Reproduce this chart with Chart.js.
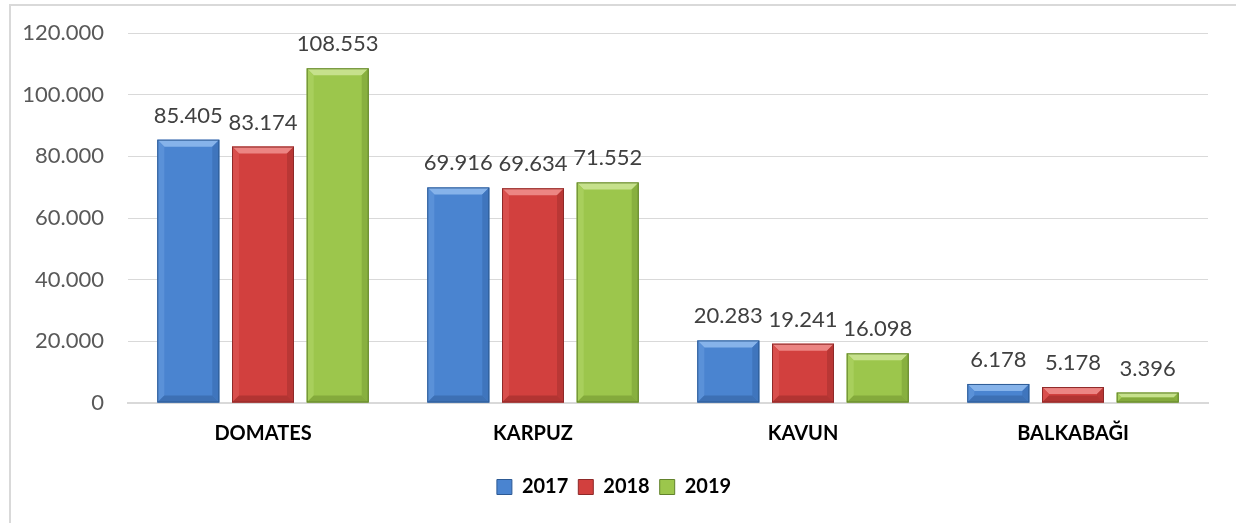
<!DOCTYPE html>
<html>
<head>
<meta charset="utf-8">
<script src="https://cdn.jsdelivr.net/npm/chart.js@4/dist/chart.umd.min.js"></script>
<style>
  html, body { margin: 0; padding: 0; background: #fff; }
  #wrap { position: relative; width: 1236px; height: 523px; overflow: hidden; }
  #frame {
    position: absolute; left: 9px; top: 4px; right: -4px; bottom: -4px;
    border-left: 2px solid #d9d9d9; border-top: 2px solid #d9d9d9;
  }
  #chart { position: absolute; left: 0; top: 0; }
</style>
</head>
<body>
<div id="wrap">
  <div id="frame"></div>
  <canvas id="chart" width="1236" height="523"></canvas>
</div>
<script>
const categories = ['DOMATES', 'KARPUZ', 'KAVUN', 'BALKABAĞI'];
const years = ['2017', '2018', '2019'];
const values2017 = [85405, 69916, 20283, 6178];
const values2018 = [83174, 69634, 19241, 5178];
const values2019 = [108553, 71552, 16098, 3396];
const yTicks = [0, 20000, 40000, 60000, 80000, 100000, 120000];

const palette = [
  { main: '#4a84d0', light: '#86b3ea', side: '#5a91d8', dark: '#3f75bd', bottom: '#3d70b4', edge: '#2d5a94' },
  { main: '#d2403e', light: '#ec8583', side: '#d94f4d', dark: '#b93735', bottom: '#b23432', edge: '#8e2928' },
  { main: '#9cc64c', light: '#c6e18c', side: '#a8cf5c', dark: '#88b03f', bottom: '#84aa3c', edge: '#62822c' },
];

function formatTr(n) {
  return String(Math.round(n)).replace(/\B(?=(\d{3})+(?!\d))/g, '.');
}

const bevelPlugin = {
  id: 'bevel',
  afterDatasetsDraw(chart) {
    const ctx = chart.ctx;
    chart.data.datasets.forEach((ds, di) => {
      const meta = chart.getDatasetMeta(di);
      const c = palette[di];
      meta.data.forEach((bar) => {
        const p = bar.getProps(['x', 'y', 'base', 'width'], true);
        const left = p.x - p.width / 2;
        const right = p.x + p.width / 2;
        const top = p.y;
        const bottom = p.base;
        const b = Math.min(7, (bottom - top) / 2, p.width / 2);
        ctx.save();
        const poly = (pts, color) => {
          ctx.beginPath();
          ctx.moveTo(pts[0][0], pts[0][1]);
          for (let i = 1; i < pts.length; i++) ctx.lineTo(pts[i][0], pts[i][1]);
          ctx.closePath();
          ctx.fillStyle = color;
          ctx.fill();
        };
        poly([[left, top], [right, top], [right - b, top + b], [left + b, top + b]], c.light);
        poly([[left, top], [left + b, top + b], [left + b, bottom - b], [left, bottom]], c.side);
        poly([[right, top], [right, bottom], [right - b, bottom - b], [right - b, top + b]], c.dark);
        poly([[left, bottom], [left + b, bottom - b], [right - b, bottom - b], [right, bottom]], c.bottom);
        ctx.strokeStyle = c.edge;
        ctx.lineWidth = 1;
        ctx.strokeRect(left + 0.5, top + 0.5, p.width - 1, bottom - top - 1);
        ctx.restore();
      });
    });
  },
};

const valueLabels = {
  id: 'valueLabels',
  afterDatasetsDraw(chart) {
    const ctx = chart.ctx;
    ctx.save();
    ctx.font = '22px Lato';
    ctx.fillStyle = '#404040';
    ctx.textAlign = 'center';
    ctx.textBaseline = 'alphabetic';
    chart.data.datasets.forEach((ds, di) => {
      const meta = chart.getDatasetMeta(di);
      meta.data.forEach((bar, i) => {
        ctx.fillText(formatTr(ds.data[i]), bar.x, bar.y - 17);
      });
    });
    ctx.restore();
  },
};

const seriesValues = [values2017, values2018, values2019];

new Chart(document.getElementById('chart'), {
  type: 'bar',
  data: {
    labels: categories,
    datasets: years.map((y, i) => ({
      label: y,
      data: seriesValues[i],
      backgroundColor: palette[i].main,
      borderColor: palette[i].edge,
      borderWidth: 0,
      barPercentage: 0.83,
      categoryPercentage: 0.83,
    })),
  },
  options: {
    responsive: false,
    animation: false,
    layout: { padding: { left: 20, right: 28, top: 33, bottom: 16 } },
    plugins: {
      tooltip: { enabled: false },
      legend: {
        position: 'bottom',
        labels: {
          boxWidth: 15,
          boxHeight: 15,
          padding: 10,
          color: '#000',
          font: { family: 'Lato', size: 20, weight: 'bold' },
          generateLabels(chart) {
            return chart.data.datasets.map((ds, i) => ({
              text: ds.label,
              fillStyle: palette[i].main,
              strokeStyle: palette[i].edge,
              lineWidth: 1,
              datasetIndex: i,
            }));
          },
        },
      },
    },
    scales: {
      x: {
        grid: { display: false, drawTicks: false },
        border: { display: true, color: '#d9d9d9', width: 2 },
        ticks: {
          padding: 19,
          color: '#000',
          font: { family: 'Lato', size: 20, weight: 'bold' },
        },
        afterFit(scale) { scale.height = 64; },
      },
      y: {
        min: 0,
        max: 120000,
        afterBuildTicks(scale) { scale.ticks = yTicks.map((v) => ({ value: v })); },
        grid: { color: '#d9d9d9', lineWidth: 1, drawTicks: false },
        border: { display: false },
        ticks: {
          padding: 24,
          color: '#595959',
          font: { family: 'Lato', size: 22 },
          callback: (v) => formatTr(v),
        },
        afterFit(scale) {
          scale.width = 108;
          scale.paddingTop = 0;
          scale.paddingBottom = 0;
        },
      },
    },
  },
  plugins: [bevelPlugin, valueLabels],
});
</script>
</body>
</html>
